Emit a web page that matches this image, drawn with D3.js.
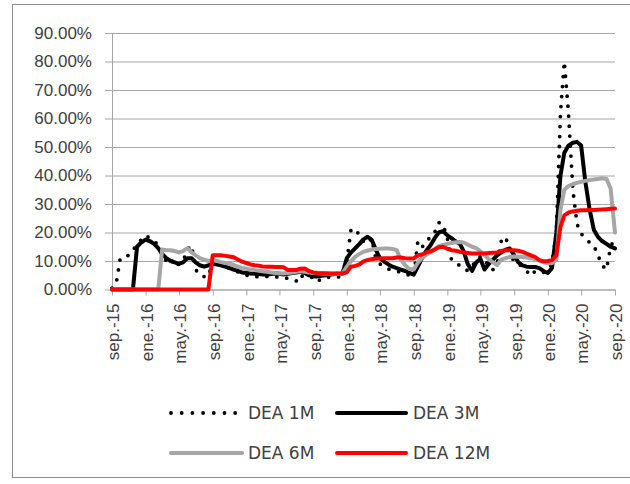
<!DOCTYPE html>
<html>
<head>
<meta charset="utf-8">
<script src="https://cdn.jsdelivr.net/npm/d3@7"></script>
<style>
  body { margin: 0; background: #fff; }
  svg { font-family: "DejaVu Sans", sans-serif; }
</style>
</head>
<body>
<script>
// semi-monthly observations (1st and 16th) from sep 2015 to sep 2020, in percent
var dea1m = [
    0.5, 2, 11, 11.5, 12, 14, 15.5, 17.5, 19, 18,
    17, 15.5, 12, 10, 11, 8, 9, 10, 14, 15.5,
    7, 5, 4.5, 4.5, 10, 10.5, 8.5, 8, 7.4, 6.8,
    6.2, 5.5, 5, 5, 4.6, 4.4, 4.4, 4.6, 4.4, 4.4,
    4.4, 4.2, 3.9, 3.5, 3, 2.7, 7.5, 5.6, 3.5, 2.7,
    3.9, 4.2, 4.4, 4.4, 4.4, 4.8, 10, 21, 21.2, 19,
    17, 16, 18, 11, 9, 7.9, 7.2, 6.8, 6.5, 6,
    5.6, 5, 4.4, 17, 15, 16, 19, 20, 23.5, 23,
    18, 10.5, 9, 8.5, 8, 6.5, 8, 10.5, 11.5, 11,
    7.5, 7, 9, 17, 18.5, 13, 9.7, 9, 8, 6.5,
    4.8, 6.5, 6.2, 6, 6.8, 9, 20, 62, 80, 62,
    35, 23, 19.6, 18, 16.5, 15.5, 12, 8.5, 7, 15, 18
];
var dea3m = [
    0, 0, 0, 0, 0, 0, 15, 16.5, 17.5, 17,
    16, 14.5, 12.5, 11, 10, 9.5, 9, 9.5, 11, 11,
    9.5, 8.5, 8, 8.5, 9, 8.8, 8.5, 8, 7.5, 7,
    6.5, 6, 5.8, 5.6, 5.5, 5.4, 5.3, 5.2, 5.4, 5.6,
    5.5, 5.3, 5.5, 5.8, 6, 6.2, 5.8, 5, 4.6, 4.6,
    4.8, 5, 5.2, 5.4, 5.5, 5.6, 11, 13, 14.5, 16,
    17.5, 18.5, 17.5, 14, 11, 9.8, 8.8, 8, 7.5, 7,
    6.5, 5.8, 5.2, 8, 11, 13.5, 15.5, 18, 20, 20.5,
    19, 18, 16.8, 16, 13.5, 9, 6.5, 9.5, 10.8, 7,
    9, 10.5, 12, 13, 14, 14.4, 12, 9.5, 8.5, 8,
    7.9, 7.9, 7.5, 6.5, 5.8, 7.5, 20, 40, 48, 50.5,
    51.5, 51.8, 50.5, 38, 28, 21, 18.5, 17, 16, 15, 14.4
];
var dea6m = [
    0, 0, 0, 0, 0, 0, 0, 0, 0, 0,
    0, 0, 14, 13.8, 13.8, 13.5, 13, 13.5, 14.5, 13,
    12, 11, 10.5, 10, 10.3, 10, 9.6, 9.3, 9.1, 8.6,
    8, 7.6, 7.3, 7, 6.8, 6.6, 6.4, 6.2, 6, 5.8,
    5.7, 5.6, 5.8, 6, 6.2, 6.4, 6.2, 6, 5.8, 5.7,
    5.6, 5.5, 5.5, 5.5, 5.5, 5.6, 8, 10, 11.5, 12.5,
    13.2, 13.6, 14, 14.2, 14.3, 14.4, 14.4, 14.2, 13.8, 10.5,
    8.5, 7.2, 7, 9.4, 11, 12.2, 13, 14.2, 15.2, 15.6,
    16, 16.3, 16.6, 16.7, 16.5, 15.8, 15, 14.5, 13.5, 12,
    10.6, 9.5, 8.6, 10.5, 11, 11.4, 11.6, 11.5, 11.4, 11.2,
    11, 10.6, 10.1, 9.6, 9.2, 9.2, 10.5, 28, 35, 36.3,
    37, 37.4, 37.8, 38.1, 38.4, 38.6, 38.8, 39, 38.8, 35.5, 20
];
var dea12m = [
    0, 0, 0, 0, 0, 0, 0, 0, 0, 0,
    0, 0, 0, 0, 0, 0, 0, 0, 0, 0,
    0, 0, 0, 0, 12, 12, 12, 11.8, 11.6, 11.3,
    10.5, 9.8, 9.3, 8.8, 8.5, 8.3, 8.1, 8, 8, 7.9,
    7.9, 7.8, 6.8, 6.8, 6.8, 7.3, 7.4, 6.5, 6, 5.8,
    5.7, 5.7, 5.6, 5.6, 5.6, 5.6, 6, 8, 8.3, 8.8,
    9.8, 10.3, 10.6, 10.9, 10.9, 11, 11, 11, 11.2, 11.2,
    11, 10.9, 10.9, 12, 12.3, 13, 13.4, 14, 14.8, 15,
    14.3, 13.8, 13.6, 13.2, 13, 12.8, 12.6, 12.6, 12.6, 12.6,
    12.8, 12.9, 13, 13.5, 13.8, 13.8, 13.8, 13.6, 13.2, 12.6,
    12, 11.4, 10.3, 9.9, 10, 10.3, 12, 22, 26, 27,
    27.4, 27.6, 27.8, 27.8, 27.9, 27.9, 28, 28.1, 28.2, 28.3, 28.4
];
var seriesNames = ['DEA 1M', 'DEA 3M', 'DEA 6M', 'DEA 12M'];
var xLabels = ['sep.-15', 'ene.-16', 'may.-16', 'sep.-16', 'ene.-17', 'may.-17', 'sep.-17', 'ene.-18',
    'may.-18', 'sep.-18', 'ene.-19', 'may.-19', 'sep.-19', 'ene.-20', 'may.-20', 'sep.-20'];
var yTicks = [0, 10, 20, 30, 40, 50, 60, 70, 80, 90];

(function() {
    var start = new Date(2015, 8, 1),
        dates = dea1m.map(function(d, i) {
            var m = d3.timeMonth.offset(start, Math.floor(i / 2));
            return i % 2 ? d3.timeDay.offset(m, 15) : m;
        }),
        tickDates = xLabels.map(function(d, i) { return d3.timeMonth.offset(start, i * 4); });

    var plotLeft = 112, plotRight = 615, plotTop = 33, plotBottom = 289.5,
        width = plotRight - plotLeft,
        textColor = '#404040',
        gridColor = '#a6a6a6';

    var svg = d3.select('body').append('svg')
            .attr('width', 630)
            .attr('height', 484);

    svg.append('rect')
        .attr('x', 12.5)
        .attr('y', 4.5)
        .attr('width', 640)
        .attr('height', 473)
        .attr('fill', 'none')
        .attr('stroke', '#8c8c8c');

    var tScale = d3.scaleTime()
            .domain([tickDates[0], tickDates[tickDates.length - 1]])
            .range([plotLeft, plotRight]),
        vScale = d3.scaleLinear()
            .domain([0, 90])
            .range([plotBottom, plotTop]);

    var yAxis = d3.axisLeft(vScale)
            .tickValues(yTicks)
            .tickSizeInner(-width)
            .tickSizeOuter(0)
            .tickPadding(20)
            .tickFormat(function(d) { return d.toFixed(2) + '%'; });

    var yy = svg.append('g')
        .attr('transform', 'translate(' + plotLeft + ',0)')
        .call(yAxis);
    yy.select('.domain').attr('stroke', gridColor);
    yy.selectAll('.tick line')
        .attr('x1', -7)
        .attr('stroke', gridColor);
    yy.selectAll('text')
        .attr('fill', textColor)
        .style('font-size', '17px');

    var xAxis = d3.axisBottom(tScale)
            .tickValues(tickDates)
            .tickSizeInner(6)
            .tickSizeOuter(0)
            .tickFormat(function(d, i) { return xLabels[i]; });

    var xx = svg.append('g')
        .attr('transform', 'translate(0,' + plotBottom + ')')
        .call(xAxis);
    xx.select('.domain').attr('stroke', gridColor);
    xx.selectAll('.tick line').attr('stroke', gridColor);
    xx.selectAll('text')
        .attr('transform', 'rotate(-90)')
        .attr('x', -14)
        .attr('y', 0)
        .attr('dy', '0.4em')
        .style('text-anchor', 'end')
        .attr('fill', textColor)
        .style('font-size', '17px');

    var series = [
        {label: seriesNames[0], values: dea1m, color: '#000000', width: 3.8, dash: '0 10'},
        {label: seriesNames[1], values: dea3m, color: '#000000', width: 4, dash: null},
        {label: seriesNames[2], values: dea6m, color: '#a6a6a6', width: 4, dash: null},
        {label: seriesNames[3], values: dea12m, color: '#ff0000', width: 4, dash: null}
    ];

    var svgline = d3.line()
        .x(function(d, i) { return tScale(dates[i]); })
        .y(function(d) { return vScale(d); });

    svg.append('g').selectAll('.line')
        .data(series)
        .enter()
        .append('path')
        .attr('class', 'line')
        .attr('d', function(d) { return svgline(d.values); })
        .attr('fill', 'none')
        .attr('stroke', function(d) { return d.color; })
        .attr('stroke-width', function(d) { return d.width; })
        .attr('stroke-linejoin', 'round')
        .attr('stroke-linecap', 'round')
        .attr('stroke-dasharray', function(d) { return d.dash; });

    var legend = svg.append('g').selectAll('.legend')
        .data(series)
        .enter()
        .append('g')
        .attr('class', 'legend')
        .attr('transform', function(d, i) {
            return 'translate(' + (i % 2 ? 337 : 171) + ',' + (i < 2 ? 413 : 453) + ')';
        });

    legend.append('line')
        .attr('x1', 0)
        .attr('x2', function(d, i) { return i === 0 ? 65 : i === 2 ? 71 : 69; })
        .attr('stroke', function(d) { return d.color; })
        .attr('stroke-width', function(d) { return d.width; })
        .attr('stroke-linecap', 'round')
        .attr('stroke-dasharray', function(d) { return d.dash ? '0 10.7' : null; });

    legend.append('text')
        .attr('x', function(d, i) { return i % 2 ? 76 : 77; })
        .attr('dy', '.36em')
        .attr('fill', textColor)
        .style('font-size', '17px')
        .text(function(d) { return d.label; });
})();
</script>
</body>
</html>
